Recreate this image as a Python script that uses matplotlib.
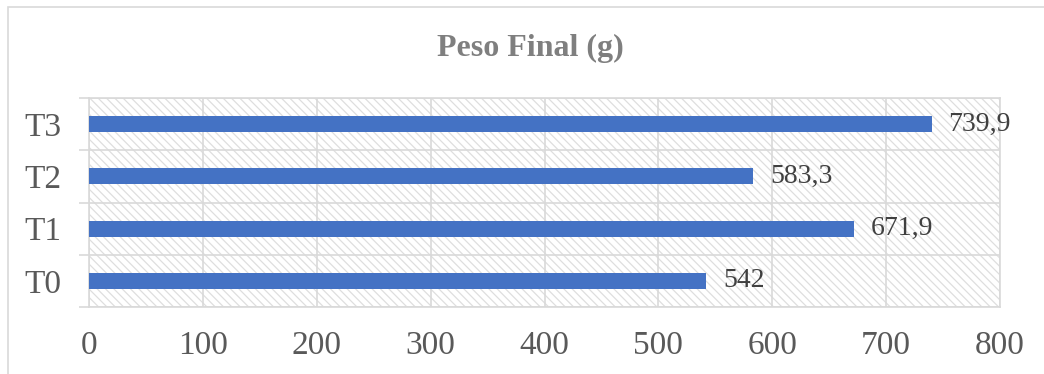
import matplotlib
matplotlib.use("Agg")
import matplotlib.pyplot as plt
from matplotlib.patches import Rectangle
import numpy as np

categories = ["T0", "T1", "T2", "T3"]
peso_final = [542, 671.9, 583.3, 739.9]
x_ticks = [0, 100, 200, 300, 400, 500, 600, 700, 800]

BAR = "#4472C4"
GRID = "#D9D9D9"
plt.rcParams["font.family"] = ["Liberation Serif", "DejaVu Serif"]
plt.rcParams["hatch.linewidth"] = 0.9

W, H = 1044, 374
fig = plt.figure(figsize=(W / 100, H / 100), dpi=100)
ax = fig.add_axes([89 / W, 1 - 307 / H, (1000 - 89) / W, (307 - 98) / H])

# chart area frame (runs off the right and bottom edges)
fig.patches.append(Rectangle((8 / W, -0.1), 1.2, 1 - 7 / H + 0.1, transform=fig.transFigure,
                             fill=False, edgecolor=GRID, lw=1.2, zorder=0))

# hatched plot area
ax.set_facecolor("white")
ax.add_patch(Rectangle((0, 0), 1, 1, transform=ax.transAxes, facecolor="white",
                       edgecolor="#DEDEDE", lw=0, hatch="\\\\\\\\", zorder=0))

y = np.arange(len(categories))
ax.barh(y, peso_final, height=0.31, color=BAR, zorder=3)
for yi, v in zip(y, peso_final):
    txt = f"{v:g}".replace(".", ",")
    ax.text(v + 17 * 800 / 911, yi, txt, va="center", ha="left",
            fontsize=20, color="#404040", zorder=4)

ax.set_xlim(0, 800)
ax.set_ylim(-0.5, len(categories) - 0.5)
ax.set_xticks(x_ticks)
ax.set_yticks(y, categories)
ax.set_yticks(np.arange(-0.5, len(categories)), minor=True)
ax.grid(axis="x", color=GRID, lw=1.2, zorder=1)
ax.grid(axis="y", which="minor", color=GRID, lw=1.2, zorder=1)
ax.tick_params(axis="x", length=0, pad=17, labelsize=24, labelcolor="#595959")
ax.tick_params(axis="y", which="major", length=0, pad=20, labelsize=24, labelcolor="#595959")
ax.tick_params(axis="y", which="minor", length=7.2, width=1.2, color=GRID, direction="out")
for s in ax.spines.values():
    s.set_color(GRID)
    s.set_linewidth(1.2)

fig.text(530 / W, 1 - 48 / H, "Peso Final (g)", ha="center", va="center",
         fontsize=23, fontweight="bold", color="#7F7F7F")

fig.savefig("out.png", dpi=100)
